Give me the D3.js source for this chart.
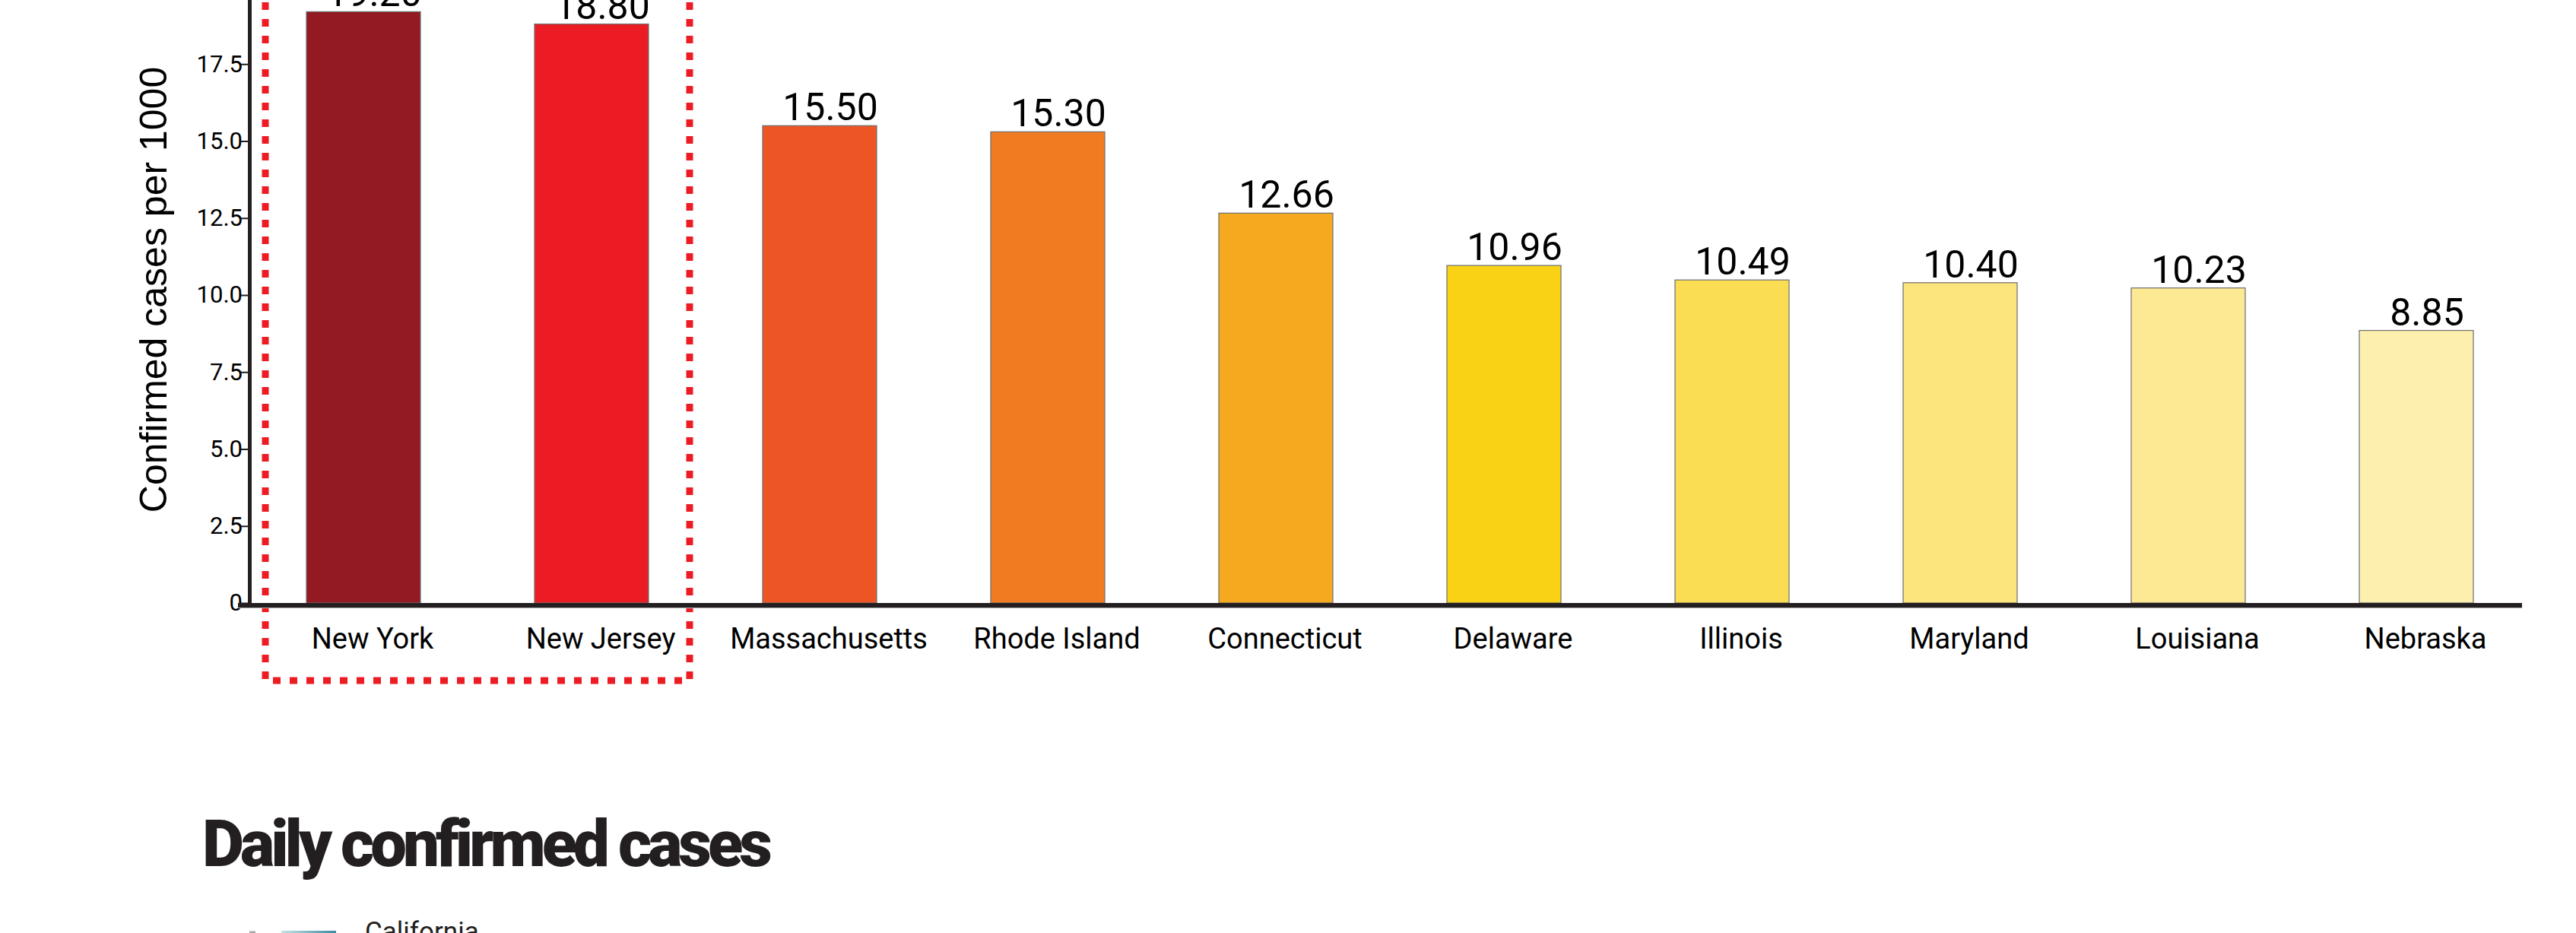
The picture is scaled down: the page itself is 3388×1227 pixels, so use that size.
<!DOCTYPE html>
<html>
<head>
<meta charset="utf-8">
<script src="https://cdn.jsdelivr.net/npm/d3@7"></script>
<style>
  html, body { margin: 0; padding: 0; background: #ffffff; overflow: hidden; }
  svg { display: block; }
</style>
</head>
<body>
<svg id="chart" width="3388" height="1227"></svg>
<script>
// States ranked by confirmed COVID-19 cases per 1000 residents
const categories = ["New York", "New Jersey", "Massachusetts", "Rhode Island", "Connecticut",
                    "Delaware", "Illinois", "Maryland", "Louisiana", "Nebraska"];
const casesPer1000 = [19.20, 18.80, 15.50, 15.30, 12.66, 10.96, 10.49, 10.40, 10.23, 8.85];
const barColors = ["#931a22", "#ec1c24", "#ee5524", "#f17b21", "#f5a91f",
                   "#fad215", "#fadd52", "#fce57c", "#fde893", "#fdefae"];
const yTickValues = [0, 2.5, 5, 7.5, 10, 12.5, 15, 17.5];
const highlighted = ["New York", "New Jersey"];
const yAxisTitle = "Confirmed cases per 1000";
const sectionTitle = "Daily confirmed cases";
const legendSeries = ["California"];

const svg = d3.select("#chart");
const ink = "#231f20";

const x = d3.scaleBand()
  .domain(categories)
  .range([328, 3328])
  .paddingInner(0.5)
  .paddingOuter(0.25);

const y = d3.scaleLinear()
  .domain([0, 20])
  .range([793, -17]);

const rows = categories.map((c, i) => ({ name: c, value: casesPer1000[i], color: barColors[i] }));

// Highlight box around the leading states
const hiPad = x.step() * 0.18;
const hiLeft = x(highlighted[0]) - hiPad;
const hiRight = x(highlighted[highlighted.length - 1]) + x.bandwidth() + hiPad;
svg.append("rect")
  .attr("x", hiLeft)
  .attr("y", y.range()[1] - 60)
  .attr("width", hiRight - hiLeft)
  .attr("height", y(0) + 102 - (y.range()[1] - 60))
  .attr("fill", "none")
  .attr("stroke", "#ed1c24")
  .attr("stroke-width", 9)
  .attr("stroke-dasharray", "10,12");

// Bars
svg.append("g").selectAll("rect")
  .data(rows)
  .join("rect")
  .attr("x", d => x(d.name))
  .attr("y", d => y(d.value))
  .attr("width", x.bandwidth())
  .attr("height", d => y(0) - y(d.value))
  .attr("fill", d => d.color)
  .attr("stroke", "#6d6e71")
  .attr("stroke-width", 1.2);

// Value labels above bars
svg.append("g").selectAll("text")
  .data(rows)
  .join("text")
  .attr("x", d => x(d.name) + x.bandwidth() / 2 + 14)
  .attr("y", d => y(d.value) - 7)
  .attr("text-anchor", "middle")
  .attr("font-family", "Roboto, sans-serif")
  .attr("font-size", 50)
  .attr("fill", "#000")
  .text(d => d.value.toFixed(2));

// Y axis
const yAxis = d3.axisLeft(y)
  .tickValues(yTickValues)
  .tickSize(12)
  .tickSizeOuter(0)
  .tickPadding(-3)
  .tickFormat(d => d === 0 ? "0" : d3.format(".1f")(d));
const gy = svg.append("g")
  .attr("transform", `translate(${x.range()[0]},0)`)
  .call(yAxis);
gy.select(".domain").attr("stroke", ink).attr("stroke-width", 5);
gy.selectAll(".tick line").attr("stroke", ink).attr("stroke-width", 2);
gy.selectAll(".tick text")
  .attr("font-family", "Roboto, sans-serif")
  .attr("font-size", 31)
  .attr("fill", "#000");

// Y axis title
svg.append("text")
  .attr("transform", `translate(219,381) rotate(-90)`)
  .attr("text-anchor", "middle")
  .attr("font-family", "'Liberation Sans', Arial, sans-serif")
  .attr("font-size", 50)
  .attr("fill", "#000")
  .text(yAxisTitle);

// X axis category labels
const xAxis = d3.axisBottom(x).tickSize(0).tickPadding(33);
const gx = svg.append("g")
  .attr("transform", `translate(0,${y(0)})`)
  .call(xAxis);
gx.select(".domain").remove();
gx.selectAll(".tick text")
  .attr("dx", 12)
  .attr("font-family", "Roboto, sans-serif")
  .attr("font-size", 38)
  .attr("fill", "#000");

// Baseline
svg.append("line")
  .attr("x1", x.range()[0] - 15)
  .attr("x2", x.range()[1] - 11)
  .attr("y1", y(0) + 6)
  .attr("y2", y(0) + 6)
  .attr("stroke", "#b3b3b3")
  .attr("stroke-width", 2);
svg.append("line")
  .attr("x1", x.range()[0] - 15)
  .attr("x2", x.range()[1] - 11)
  .attr("y1", y(0) + 3)
  .attr("y2", y(0) + 3)
  .attr("stroke", ink)
  .attr("stroke-width", 6);

// Next section heading
svg.append("text")
  .attr("x", 266)
  .attr("y", 1139)
  .attr("font-family", "Roboto, sans-serif")
  .attr("font-weight", 900)
  .attr("font-size", 85)
  .attr("letter-spacing", -5)
  .attr("fill", ink)
  .text(sectionTitle);

// Legend of the daily cases chart
const defs = svg.append("defs");
const grad = defs.append("linearGradient").attr("id", "legendGrad");
grad.append("stop").attr("offset", "0%").attr("stop-color", "#c4e3e8");
grad.append("stop").attr("offset", "100%").attr("stop-color", "#3d8aa0");

const legend = svg.append("g").selectAll("g")
  .data(legendSeries)
  .join("g")
  .attr("transform", (d, i) => `translate(328,${1226 + i * 50})`);
legend.append("line")
  .attr("x1", 0).attr("x2", 8)
  .attr("stroke", "#aaaaaa").attr("stroke-width", 3);
legend.append("rect")
  .attr("x", 42).attr("y", -2)
  .attr("width", 72).attr("height", 4)
  .attr("fill", "url(#legendGrad)");
legend.append("text")
  .attr("x", 152)
  .attr("y", 11)
  .attr("font-family", "Roboto, sans-serif")
  .attr("font-size", 35)
  .attr("fill", ink)
  .text(d => d);
</script>
</body>
</html>
